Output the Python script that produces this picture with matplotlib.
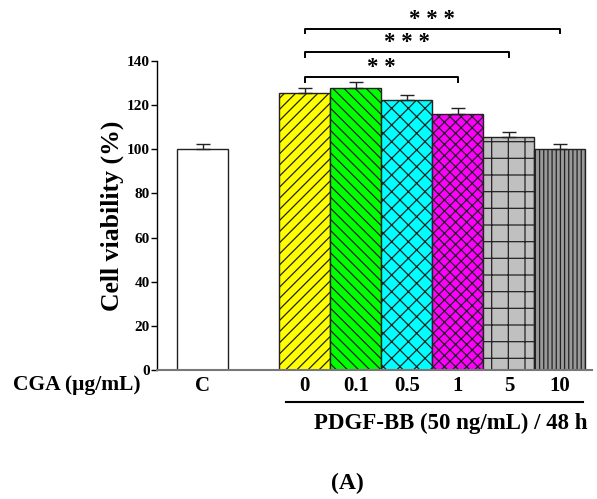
import matplotlib
matplotlib.use("Agg")
import matplotlib.pyplot as plt
from matplotlib.lines import Line2D

# data
groups = ["C", "0", "0.1", "0.5", "1", "5", "10"]
viability = [100.0, 125.3, 127.6, 122.3, 116.2, 105.5, 100.0]
sem = [2.3, 2.3, 2.8, 2.1, 2.3, 2.3, 2.3]
positions = [0, 2, 3, 4, 5, 6, 7]

# significance brackets: (from group, to group, bracket height, label)
brackets = [(1, 4, 132.6, "* *"), (1, 5, 143.9, "* * *"), (1, 6, 154.5, "* * *")]

colors = ["#FFFFFF", "#FFFF00", "#00FF00", "#00FFFF", "#FF00FF", "#C0C0C0", "#9A9A9A"]
hatches = ["", "///", "\\\\\\", "xx", "xxx", "+", "||||"]

plt.rcParams["font.family"] = ["Liberation Serif", "DejaVu Serif"]
plt.rcParams["font.weight"] = "bold"
plt.rcParams["hatch.linewidth"] = 0.9
plt.rcParams["hatch.color"] = "#222222"

fig = plt.figure(figsize=(5.97, 4.99), dpi=100)
ax = fig.add_axes([157/597, 129/499, 435/597, 309/499])

for i in range(len(groups)):
    ax.bar(positions[i], viability[i], width=1.0, color=colors[i], edgecolor="#222222",
           linewidth=1.0, hatch=hatches[i], zorder=2)
    ax.errorbar(positions[i], viability[i], yerr=[[0], [sem[i]]], fmt="none",
                ecolor="#222222", elinewidth=1.0, capsize=5, capthick=1.0, zorder=3)

# brackets above the bars
for a, b, h, lab in brackets:
    x0, x1 = positions[a], positions[b]
    ax.plot([x0, x0, x1, x1], [h - 2.0, h, h, h - 2.0], color="black", lw=1.4,
            clip_on=False, solid_joinstyle="round")
    ax.text((x0 + x1) / 2, h - 0.5, lab, ha="center", va="bottom", fontsize=16.5,
            fontweight="bold", clip_on=False)

ax.set_xlim(-0.9, 7.63)
ax.set_ylim(0, 140)
ax.set_yticks(range(0, 141, 20))
ax.set_xticks(positions)
ax.set_xticklabels(groups, fontsize=15, fontweight="bold")
ax.tick_params(axis="x", length=0, pad=4)
ax.tick_params(axis="y", length=4, width=1, direction="out", pad=1, labelsize=11)
for t in ax.get_yticklabels():
    t.set_fontweight("bold")

ax.spines["top"].set_visible(False)
ax.spines["right"].set_visible(False)
ax.spines["bottom"].set_color("#777777")
ax.spines["bottom"].set_linewidth(1.5)
ax.spines["left"].set_linewidth(1.0)

ax.set_ylabel("Cell viability (%)", fontsize=18.5, fontweight="bold", labelpad=2)

fig.text(13/597, 1 - 385/499, "CGA (\u03bcg/mL)", ha="left", va="center",
         fontsize=15.5, fontweight="bold")
fig.add_artist(Line2D([286/597, 583/597], [1 - 402/499, 1 - 402/499],
                      transform=fig.transFigure, color="black", lw=1.5))
fig.text(451/597, 1 - 423/499, "PDGF-BB (50 ng/mL) / 48 h", ha="center", va="center",
         fontsize=16.5, fontweight="bold")
fig.text(347/597, 1 - 483/499, "(A)", ha="center", va="center", fontsize=17,
         fontweight="bold")

fig.savefig("out.png", dpi=100)
